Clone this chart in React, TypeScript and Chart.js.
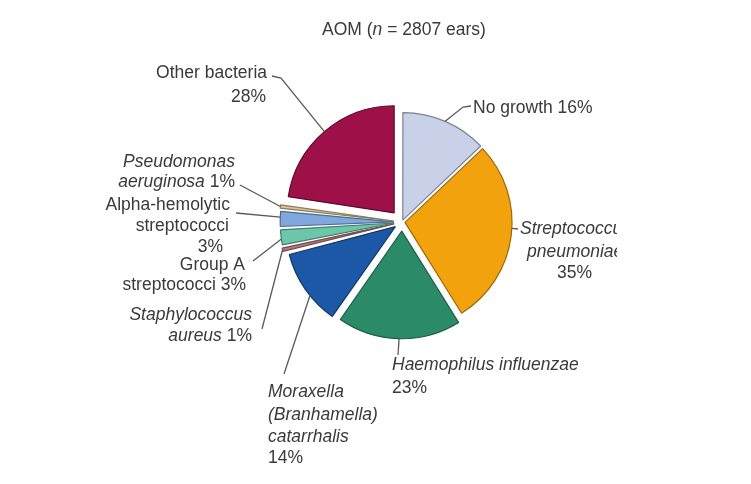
import React, { useEffect, useRef } from "react";
import { Chart, registerables } from "chart.js";
Chart.register(...registerables);

// ---- data ----
const categories = [
  "No growth",
  "Streptococcus pneumoniae",
  "Haemophilus influenzae",
  "Moraxella (Branhamella) catarrhalis",
  "Staphylococcus aureus",
  "Group A streptococci",
  "Alpha-hemolytic streptococci",
  "Pseudomonas aeruginosa",
  "Other bacteria",
];
const percentages = [16, 35, 23, 14, 1, 3, 3, 1, 28];
const titleParts = ["AOM (", "n", " = 2807 ears)"];

// ---- styles ----
const FILL = ["#c9d1e8", "#f2a20c", "#2b8a68", "#1c58a6", "#b57a7c", "#6cc6aa", "#7fa8dc", "#d9c592", "#9e1048"];
const EDGE = ["#7d8296", "#a0680a", "#1d5a44", "#12386a", "#7a4c4e", "#3f7f6c", "#4d6c94", "#8c7c58", "#5e0a2c"];
const EXPLODE = [8, 12, 36, 32, 32, 32, 32, 32, 48];
const FONT = '"Liberation Sans", Arial, sans-serif';
const FS = 17.5;
const TXT = "#3a3a3a";

const pct = (i: number) => `${percentages[i]}%`;

type Seg = { t: string; it?: boolean };
type Row = { x: number; y: number; segs: Seg[] };
type LabelSpec = { idx: number; align: "left" | "right"; rows: Row[]; path: [number, number][]; frac: number; clip?: number };

const LABELS: LabelSpec[] = [
  { idx: 0, align: "left", rows: [{ x: 473, y: 108, segs: [{ t: "No growth " + pct(0) }] }], path: [[471, 106], [463, 107]], frac: 0.5 },
  {
    idx: 1, align: "left", clip: 617,
    rows: [
      { x: 520, y: 229, segs: [{ t: "Streptococcus", it: true }] },
      { x: 527, y: 252, segs: [{ t: "pneumoniae", it: true }] },
      { x: 557, y: 273, segs: [{ t: pct(1) }] },
    ],
    path: [[518, 229]], frac: 0.46,
  },
  {
    idx: 2, align: "left",
    rows: [
      { x: 392, y: 365, segs: [{ t: "Haemophilus influenzae", it: true }] },
      { x: 392, y: 388, segs: [{ t: pct(2) }] },
    ],
    path: [[398, 355]], frac: 0.5,
  },
  {
    idx: 3, align: "left",
    rows: [
      { x: 268, y: 392, segs: [{ t: "Moraxella", it: true }] },
      { x: 268, y: 415, segs: [{ t: "(Branhamella)", it: true }] },
      { x: 268, y: 437, segs: [{ t: "catarrhalis", it: true }] },
      { x: 268, y: 458, segs: [{ t: pct(3) }] },
    ],
    path: [[284, 374]], frac: 0.4,
  },
  {
    idx: 4, align: "right",
    rows: [
      { x: 252, y: 315, segs: [{ t: "Staphylococcus", it: true }] },
      { x: 252, y: 336, segs: [{ t: "aureus", it: true }, { t: " " + pct(4) }] },
    ],
    path: [[262, 329]], frac: 0.5,
  },
  {
    idx: 5, align: "right",
    rows: [
      { x: 245, y: 265, segs: [{ t: "Group A" }] },
      { x: 246, y: 285, segs: [{ t: "streptococci " + pct(5) }] },
    ],
    path: [[253, 261]], frac: 0.4,
  },
  {
    idx: 6, align: "right",
    rows: [
      { x: 230, y: 205, segs: [{ t: "Alpha-hemolytic" }] },
      { x: 229, y: 226, segs: [{ t: "streptococci" }] },
      { x: 223, y: 247, segs: [{ t: pct(6) }] },
    ],
    path: [[236, 213]], frac: 0.6,
  },
  {
    idx: 7, align: "right",
    rows: [
      { x: 235, y: 162, segs: [{ t: "Pseudomonas", it: true }] },
      { x: 235, y: 182, segs: [{ t: "aeruginosa", it: true }, { t: " " + pct(7) }] },
    ],
    path: [[240, 185]], frac: 0.5,
  },
  {
    idx: 8, align: "right",
    rows: [
      { x: 267, y: 73, segs: [{ t: "Other bacteria" }] },
      { x: 266, y: 97, segs: [{ t: pct(8) }] },
    ],
    path: [[272, 76], [281, 78]], frac: 0.5,
  },
];

function fontOf(it?: boolean) {
  return `${it ? "italic " : ""}${FS}px ${FONT}`;
}

function drawRow(ctx: CanvasRenderingContext2D, row: Row, align: "left" | "right") {
  let total = 0;
  const widths = row.segs.map((s) => {
    ctx.font = fontOf(s.it);
    const w = ctx.measureText(s.t).width;
    total += w;
    return w;
  });
  let x = align === "left" ? row.x : row.x - total;
  row.segs.forEach((s, k) => {
    ctx.font = fontOf(s.it);
    ctx.fillText(s.t, x, row.y);
    x += widths[k];
  });
}

const labelPlugin = {
  id: "labelPlugin",
  afterDraw(chart: any) {
    const ctx: CanvasRenderingContext2D = chart.ctx;
    const meta = chart.getDatasetMeta(0);
    ctx.save();
    ctx.textBaseline = "middle";
    ctx.fillStyle = TXT;

    // title
    {
      let total = 0;
      const its = [false, true, false];
      const ws = titleParts.map((t, k) => {
        ctx.font = fontOf(its[k]);
        const w = ctx.measureText(t).width;
        total += w;
        return w;
      });
      let x = 404 - total / 2;
      titleParts.forEach((t, k) => {
        ctx.font = fontOf(its[k]);
        ctx.fillText(t, x, 30);
        x += ws[k];
      });
    }

    LABELS.forEach((lab) => {
      const arc: any = meta.data[lab.idx];
      const p = arc.getProps(["x", "y", "startAngle", "endAngle", "outerRadius", "circumference"], true);
      const off = (EXPLODE[lab.idx] || 0) / 4;
      const mid = (p.startAngle + p.endAngle) / 2;
      const fix = 1 - Math.sin(Math.min(Math.PI, p.circumference || 0));
      const R = p.outerRadius + off * fix;
      const a = p.startAngle + lab.frac * (p.endAngle - p.startAngle);
      const ax = p.x + Math.cos(mid) * off + Math.cos(a) * R;
      const ay = p.y + Math.sin(mid) * off + Math.sin(a) * R;

      ctx.strokeStyle = "#5a5a5a";
      ctx.lineWidth = 1.3;
      ctx.beginPath();
      ctx.moveTo(lab.path[0][0], lab.path[0][1]);
      for (let k = 1; k < lab.path.length; k++) ctx.lineTo(lab.path[k][0], lab.path[k][1]);
      ctx.lineTo(ax, ay);
      ctx.stroke();

      ctx.save();
      if (lab.clip) {
        ctx.beginPath();
        ctx.rect(0, 0, lab.clip, chart.height);
        ctx.clip();
      }
      ctx.fillStyle = TXT;
      lab.rows.forEach((r) => drawRow(ctx, r, lab.align));
      ctx.restore();
    });
    ctx.restore();
  },
};

export default function App() {
  const ref = useRef<HTMLCanvasElement | null>(null);
  useEffect(() => {
    if (!ref.current) return;
    const chart = new Chart(ref.current, {
      type: "pie",
      data: {
        labels: categories,
        datasets: [
          {
            data: percentages,
            backgroundColor: FILL,
            borderColor: EDGE,
            borderWidth: 1.2,
            offset: EXPLODE,
            radius: 107,
          } as any,
        ],
      },
      options: {
        animation: false,
        responsive: false,
        events: [],
        layout: { padding: { left: 53, right: 0, top: 0, bottom: 40 } },
        plugins: { legend: { display: false }, tooltip: { enabled: false }, title: { display: false } },
      } as any,
      plugins: [labelPlugin],
    });
    return () => chart.destroy();
  }, []);
  return (
    <div style={{ position: "absolute", left: 0, top: 0, width: 751, height: 484, background: "#fff" }}>
      <canvas ref={ref} width={751} height={484} style={{ width: 751, height: 484, display: "block" }} />
    </div>
  );
}
